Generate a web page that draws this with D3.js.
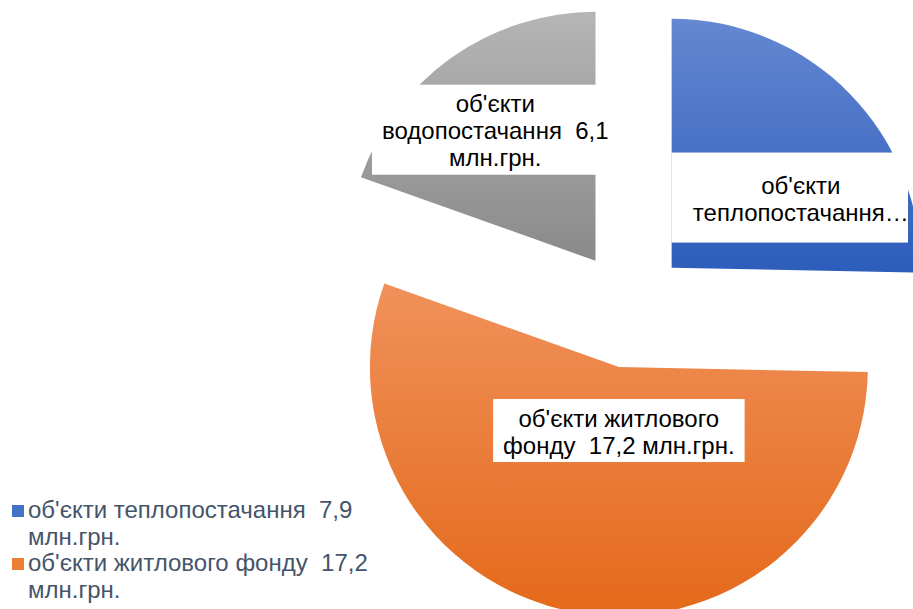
<!DOCTYPE html>
<html>
<head>
<meta charset="utf-8">
<script src="https://cdn.jsdelivr.net/npm/d3@7"></script>
<style>
  body { margin: 0; background: #fff; }
  svg { display: block; font-family: "Liberation Sans", Arial, sans-serif; }
</style>
</head>
<body>
<div id="chart"></div>
<script>
'use strict';

// data
const categories = ["об'єкти теплопостачання  7,9 млн.грн.", "об'єкти житлового фонду  17,2 млн.грн.", "об'єкти водопостачання  6,1 млн.грн."];
const values = [7.9, 17.2, 6.1];
const legendLines = [["об'єкти теплопостачання  7,9", "млн.грн."], ["об'єкти житлового фонду  17,2", "млн.грн."], ["об'єкти водопостачання  6,1", "млн.грн."]];
// label text as shown (first one is cut by the chart edge), and the full text the box was sized for
const labelLines = [["об'єкти", "теплопостачання…"], ["об'єкти житлового", "фонду  17,2 млн.грн."], ["об'єкти", "водопостачання  6,1", "млн.грн."]];
const labelFull = [["об'єкти", "теплопостачання  7,9", "млн.грн."], ["об'єкти житлового", "фонду  17,2 млн.грн."], ["об'єкти", "водопостачання  6,1", "млн.грн."]];
const colorsTop = ['#6488d1', '#f0915a', '#b5b5b5'];
const colorsBottom = ['#2d5dbb', '#e4691a', '#8a8a8a'];
const markerColors = ['#4472c4', '#ed7d31', '#a5a5a5'];

const width = 913;
const height = 609;
const chartRight = 908;
const cx = 629.5;
const cy = 309;
const radius = 249;
const explode = 59;
// label placement from each slice apex: angle (deg, clockwise from top), distance
const labelAngle = [61.5, 180, 322.6];
const labelDist = [147, 63.5, 165];
const fontSize = 24;
const lineH = 27;
const legendShown = 2; // the legend runs off the bottom after two entries

const svg = d3.select('#chart').append('svg')
    .attr('width', width)
    .attr('height', height);

const defs = svg.append('defs');
values.forEach((v, i) => {
    const g = defs.append('linearGradient')
        .attr('id', 'grad' + i)
        .attr('x1', 0).attr('y1', 0).attr('x2', 0).attr('y2', 1);
    g.append('stop').attr('offset', '0%').attr('stop-color', colorsTop[i]);
    g.append('stop').attr('offset', '100%').attr('stop-color', colorsBottom[i]);
});

const pie = d3.pie().sort(null).startAngle(0).endAngle(2 * Math.PI);
const arcs = pie(values);
const arc = d3.arc().innerRadius(0).outerRadius(radius);

function apex(d) {
    const a = (d.startAngle + d.endAngle) / 2;
    return [cx + explode * Math.sin(a), cy - explode * Math.cos(a)];
}

const slices = svg.append('g')
    .selectAll('g')
    .data(arcs)
    .enter()
    .append('g')
    .attr('transform', d => 'translate(' + apex(d) + ')');

slices.append('path')
    .attr('d', arc)
    .attr('fill', (d, i) => 'url(#grad' + i + ')');

// data labels
const labels = svg.append('g')
    .selectAll('g')
    .data(arcs)
    .enter()
    .append('g')
    .attr('transform', (d, i) => {
        const p = apex(d);
        const a = labelAngle[i] * Math.PI / 180;
        return 'translate(' + (p[0] + labelDist[i] * Math.sin(a)) + ',' + (p[1] - labelDist[i] * Math.cos(a)) + ')';
    });

labels.each(function (d, i) {
    const g = d3.select(this);
    const rect = g.append('rect').attr('fill', '#fff');
    // measure the full text to size the box
    const probe = g.append('text')
        .style('font-size', fontSize + 'px')
        .style('white-space', 'pre');
    let w = 0;
    labelFull[i].forEach(s => {
        probe.text(s);
        w = Math.max(w, probe.node().getComputedTextLength());
    });
    probe.remove();
    const bw = w + 20;
    const bh = labelFull[i].length * lineH + 9;
    const p = apex(d);
    const a = labelAngle[i] * Math.PI / 180;
    const gx = p[0] + labelDist[i] * Math.sin(a);
    // box is cut at the chart area's right edge
    const right = Math.min(bw / 2, chartRight - gx);
    rect.attr('x', -bw / 2).attr('y', -bh / 2).attr('width', right + bw / 2).attr('height', bh);
    const n = labelLines[i].length;
    g.append('text')
        .attr('text-anchor', 'middle')
        .style('font-size', fontSize + 'px')
        .style('white-space', 'pre')
        .attr('fill', '#000')
        .selectAll('tspan')
        .data(labelLines[i])
        .enter()
        .append('tspan')
        .attr('x', 0)
        .attr('y', (s, k) => (k - (n - 1) / 2) * lineH + 0.4 * fontSize)
        .text(s => s);
});

// legend
const legend = svg.append('g')
    .attr('transform', 'translate(12,518)');
const items = legend.selectAll('g')
    .data(categories.slice(0, legendShown))
    .enter()
    .append('g')
    .attr('transform', (d, i) => 'translate(0,' + i * 2 * 26.5 + ')');
items.append('rect')
    .attr('x', 0)
    .attr('y', -13)
    .attr('width', 12)
    .attr('height', 12)
    .attr('fill', (d, i) => markerColors[i]);
items.append('text')
    .attr('fill', '#44546a')
    .style('font-size', fontSize + 'px')
    .style('white-space', 'pre')
    .selectAll('tspan')
    .data((d, i) => legendLines[i])
    .enter()
    .append('tspan')
    .attr('x', 16)
    .attr('y', (s, k) => k * 26.5)
    .text(s => s);
items.append('title').text(d => d);
</script>
</body>
</html>
